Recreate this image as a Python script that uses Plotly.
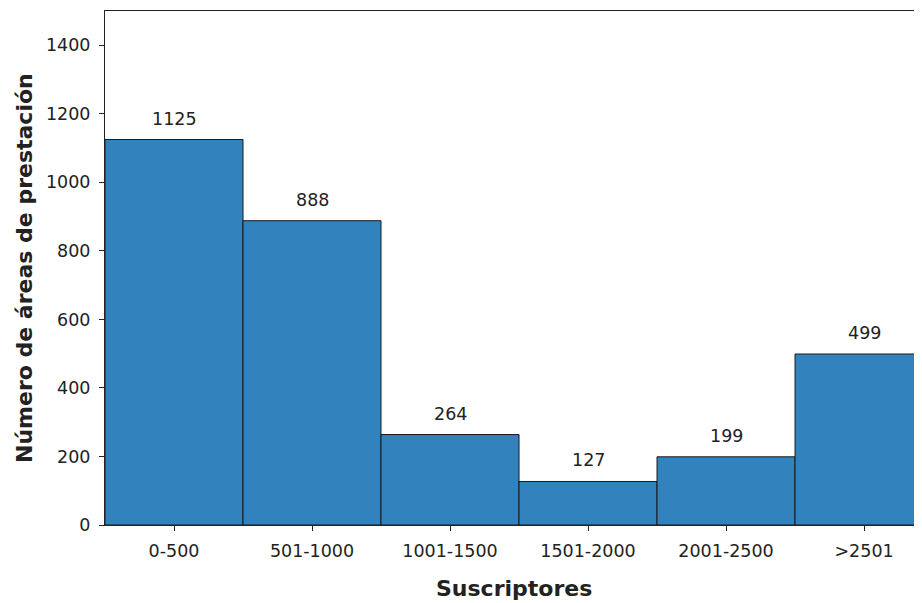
import plotly.graph_objects as go

# Data
categorias = ['0-500', '501-1000', '1001-1500', '1501-2000', '2001-2500', '>2501']
areas = [1125, 888, 264, 127, 199, 499]

fig = go.Figure()

fig.add_trace(go.Bar(
    x=categorias,
    y=areas,
    width=1.0,
    marker=dict(color='#3182bd', line=dict(color='#1a1a1a', width=1)),
    showlegend=False,
))

# value labels above bars
for cat, val in zip(categorias, areas):
    fig.add_annotation(x=cat, y=val, text=str(val), showarrow=False,
                       yshift=21, font=dict(size=17.5, color='#222222'))

# axis titles as annotations so they can be placed exactly
fig.add_annotation(x=0.5, y=-0.1245, xref='paper', yref='paper',
                   xanchor='center', yanchor='middle', showarrow=False,
                   text='<b>Suscriptores</b>', font=dict(size=22))
fig.add_annotation(x=-0.0991, y=0.5, xref='paper', yref='paper',
                   xanchor='center', yanchor='middle', showarrow=False,
                   textangle=-90,
                   text='<b>Número de áreas de prestación</b>', font=dict(size=22))

# page body has an 8px margin, so the figure is shrunk/shifted to fit
fig.update_layout(
    width=914, height=595,
    margin=dict(l=97, r=0, t=3, b=78),
    paper_bgcolor='white', plot_bgcolor='white',
    font=dict(family='DejaVu Sans', size=17.5, color='#222222'),
    xaxis=dict(
        range=[-0.5, 5.42],
        automargin=False,
        showline=True, linecolor='#222222', linewidth=1, mirror=True,
        ticks='outside', ticklen=5, tickcolor='#222222',
        ticklabelstandoff=5,
        showgrid=False,
    ),
    yaxis=dict(
        range=[0, 1500],
        automargin=False,
        tickvals=[0, 200, 400, 600, 800, 1000, 1200, 1400],
        showline=True, linecolor='#222222', linewidth=1,
        ticks='outside', ticklen=5, tickcolor='#222222',
        ticklabelstandoff=5,
        showgrid=False, zeroline=False,
    ),
)

fig.write_html('out.html')
